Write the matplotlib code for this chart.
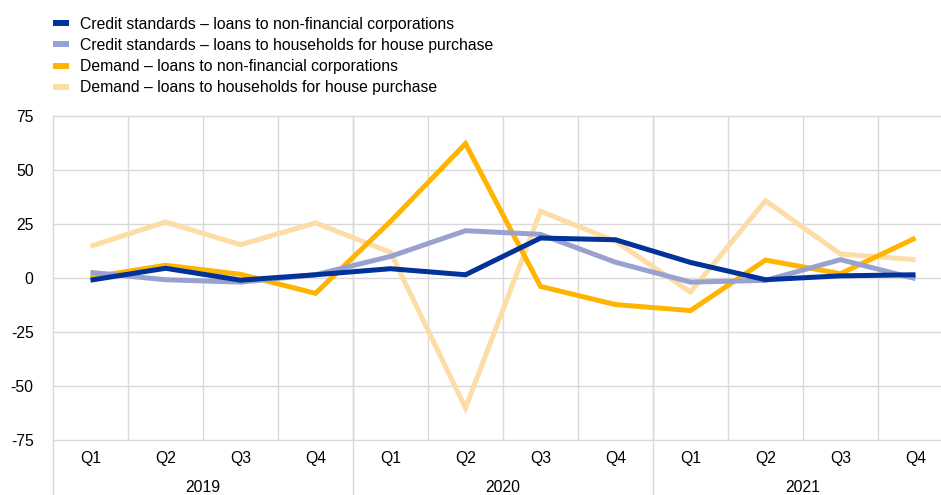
import matplotlib
matplotlib.use("Agg")
import matplotlib.pyplot as plt
from matplotlib.lines import Line2D
import matplotlib.transforms as mtransforms

plt.rcParams['font.family'] = ['Liberation Sans', 'DejaVu Sans']

quarters = ["Q1", "Q2", "Q3", "Q4"] * 3
years = ["2019", "2020", "2021"]

credit_nfc = [-1, 4.5, -1, 1.5, 4.3, 1.5, 18.5, 17.7, 7.2, -0.8, 1.0, 1.5]
credit_hh = [2.6, -0.8, -1.9, 1.5, 10.0, 21.9, 20.2, 7.3, -1.9, -1.1, 8.5, -0.3]
demand_nfc = [0.3, 5.9, 1.7, -7.1, 26.2, 62.2, -3.9, -12.3, -15.1, 8.3, 2.0, 18.5]
demand_hh = [14.7, 25.9, 15.4, 25.5, 11.9, -60.2, 30.9, 17.0, -6.5, 35.8, 11.1, 8.5]

labels = [
    "Credit standards \u2013 loans to non-financial corporations",
    "Credit standards \u2013 loans to households for house purchase",
    "Demand \u2013 loans to non-financial corporations",
    "Demand \u2013 loans to households for house purchase",
]
colors = ["#003299", "#98a1d0", "#ffb400", "#fddca5"]
series = [credit_nfc, credit_hh, demand_nfc, demand_hh]

FS = 11.3
W, H = 941, 495
fig = plt.figure(figsize=(W / 100, H / 100), dpi=100)
ax = fig.add_axes([53 / W, 1 - 440 / H, 900 / W, 324 / H])

grid_c = "#d9d9d9"
x = list(range(len(quarters)))
ax.set_xlim(-0.5, len(quarters) - 0.5)
ax.set_ylim(-75, 75)

yticks = [75, 50, 25, 0, -25, -50, -75]
for yv in yticks:
    ax.axhline(yv, color=grid_c, lw=1.0, zorder=1, clip_on=False)
for i in range(1, len(quarters)):
    ax.axvline(i - 0.5, color=grid_c, lw=1.0, zorder=1)

# draw the series (demand households first so the others sit above it)
order = [3, 2, 1, 0]
for k in order:
    ax.plot(x, series[k], color=colors[k], lw=3.6, solid_joinstyle="miter",
            solid_capstyle="butt", zorder=3 + (3 - k))

for s in ax.spines.values():
    s.set_visible(False)

ax.set_yticks(yticks)
ax.set_yticklabels([str(v) for v in yticks], fontsize=FS)
ax.tick_params(axis="y", length=0, pad=14)
ax.set_xticks([])

trans = mtransforms.blended_transform_factory(ax.transData, ax.transAxes)
for i, q in enumerate(quarters):
    ax.text(i, -18 / 324, q, transform=trans, ha="center", va="center", fontsize=FS)
for j, yr in enumerate(years):
    ax.text(j * 4 + 1.5, -48 / 324, yr, transform=trans, ha="center", va="center",
            fontsize=FS)
# year separators running below the axis
for j in range(len(years)):
    ax.plot([j * 4 - 0.5, j * 4 - 0.5], [-60 / 324, 1.0], transform=trans,
            color=grid_c, lw=1.0, clip_on=False, zorder=1)

handles = [Line2D([0], [0], color=c, lw=4.3, solid_capstyle="butt") for c in colors]
fig.legend(handles, labels, loc="upper left", bbox_to_anchor=(53 / W, 1 - 16.5 / H),
           frameon=False, fontsize=FS, handlelength=1.05, handletextpad=0.7,
           labelspacing=0.4, borderpad=0, borderaxespad=0)

fig.savefig("out.png", dpi=100)
